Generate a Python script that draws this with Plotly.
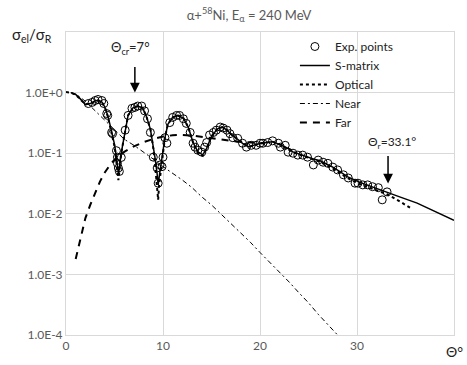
import plotly.graph_objects as go

# ---------------- data ----------------
exp_theta = [2.3, 2.7, 3.0, 3.3, 3.7, 3.9, 4.2, 4.3, 4.7, 4.8, 5.2, 5.3, 5.3, 5.4, 5.5, 5.7,
             6.1, 6.4, 6.8, 7.1, 7.4, 7.8, 8.1, 8.4, 8.7, 9.0, 9.4, 9.5, 9.7, 9.9, 10.0,
             10.2, 10.4, 10.7, 11.0, 11.4, 11.7, 12.1, 12.4, 12.8, 13.1, 13.3, 13.6, 14.0,
             14.3, 14.5, 14.8, 15.2, 15.5, 15.9, 16.2, 16.6, 16.9, 17.2, 17.7, 18.2, 18.6,
             19.1, 19.6, 20.0, 20.3, 20.8, 21.3, 21.9, 22.1, 22.6, 22.9, 23.4, 23.9, 24.4,
             24.9, 25.5, 26.0, 26.5, 27.0, 27.5, 28.0, 28.6, 29.1, 29.8, 30.1, 30.6, 31.1,
             31.6, 32.2, 32.6, 33.1]
exp_val = [0.66, 0.69, 0.74, 0.77, 0.74, 0.66, 0.45, 0.42, 0.22, 0.21, 0.11, 0.086, 0.068,
           0.057, 0.05, 0.085, 0.24, 0.42, 0.55, 0.57, 0.60, 0.60, 0.50, 0.37, 0.22, 0.086,
           0.057, 0.032, 0.064, 0.060, 0.086, 0.18, 0.146, 0.32, 0.39, 0.42, 0.42, 0.37,
           0.31, 0.22, 0.146, 0.126, 0.112, 0.104, 0.126, 0.15, 0.20, 0.22, 0.24, 0.27,
           0.26, 0.24, 0.21, 0.18, 0.176, 0.146, 0.126, 0.135, 0.135, 0.146, 0.146, 0.15,
           0.16, 0.146, 0.126, 0.135, 0.104, 0.10, 0.093, 0.093, 0.086, 0.064, 0.077,
           0.071, 0.068, 0.059, 0.053, 0.044, 0.039, 0.032, 0.032, 0.030, 0.030, 0.028,
           0.027, 0.017, 0.023]

s_theta = [0.5, 1.0, 1.5, 2.0, 2.5, 3.0, 3.3, 3.7, 4.0, 4.3, 4.6, 4.8, 5.0, 5.1, 5.2, 5.3,
           5.4, 5.5, 5.6, 5.8, 6.1, 6.4, 6.9, 7.4, 7.9, 8.3, 8.7, 9.0, 9.2, 9.4, 9.5, 9.6,
           9.8, 10.0, 10.2, 10.5, 11.0, 11.5, 12.1, 12.6, 13.1, 13.6, 14.1, 14.5, 15.0,
           15.6, 16.1, 16.6, 17.1, 17.6, 18.2, 18.8, 19.3, 20.0, 20.7, 21.3, 22.0, 22.8,
           23.4, 24.1, 24.8, 25.5, 26.2, 27.5, 28.2, 29.0, 30.3, 31.3, 32.2, 33.1, 34.4,
           36.2, 38.0, 40.0]
s_val = [1.0, 0.93, 0.78, 0.63, 0.66, 0.73, 0.75, 0.70, 0.58, 0.42, 0.27, 0.20, 0.14,
         0.11, 0.08, 0.055, 0.047, 0.055, 0.08, 0.125, 0.24, 0.42, 0.56, 0.60, 0.56, 0.40,
         0.25, 0.13, 0.08, 0.045, 0.03, 0.04, 0.065, 0.10, 0.18, 0.30, 0.39, 0.42, 0.38,
         0.27, 0.15, 0.105, 0.094, 0.12, 0.19, 0.25, 0.27, 0.24, 0.20, 0.175, 0.145,
         0.128, 0.135, 0.145, 0.15, 0.155, 0.14, 0.122, 0.105, 0.095, 0.088, 0.08, 0.075,
         0.059, 0.05, 0.041, 0.033, 0.029, 0.026, 0.023, 0.019, 0.015, 0.011, 0.0078]

o_theta = [0.0, 0.5, 1.0, 1.5, 2.0, 2.5, 3.0, 3.3, 3.7, 4.0, 4.3, 4.6, 4.8, 5.0, 5.1, 5.2,
           5.3, 5.4, 5.5, 5.6, 5.8, 6.1, 6.4, 6.9, 7.4, 7.9, 8.3, 8.7, 9.0, 9.2, 9.4, 9.5,
           9.6, 9.8, 10.0, 10.2, 10.5, 11.0, 11.5, 12.1, 12.6, 13.1, 13.6, 14.1, 14.5,
           15.0, 15.6, 16.1, 16.6, 17.1, 17.6, 18.2, 18.8, 19.3, 20.0, 20.7, 21.3, 22.0,
           22.8, 23.4, 24.1, 24.8, 25.5, 26.2, 27.5, 28.2, 29.0, 30.3, 31.3, 32.2, 33.1,
           34.4, 35.7]
o_val = [1.02, 1.0, 0.92, 0.78, 0.64, 0.66, 0.72, 0.74, 0.69, 0.57, 0.41, 0.26, 0.19,
         0.13, 0.10, 0.07, 0.045, 0.036, 0.05, 0.078, 0.125, 0.24, 0.42, 0.56, 0.60, 0.56,
         0.40, 0.25, 0.12, 0.06, 0.025, 0.017, 0.03, 0.06, 0.10, 0.18, 0.30, 0.39, 0.42,
         0.38, 0.27, 0.15, 0.10, 0.09, 0.12, 0.19, 0.25, 0.27, 0.24, 0.20, 0.175, 0.145,
         0.126, 0.134, 0.145, 0.15, 0.155, 0.14, 0.12, 0.104, 0.094, 0.086, 0.078, 0.072,
         0.056, 0.047, 0.039, 0.031, 0.027, 0.024, 0.021, 0.016, 0.012]

n_theta = [0.5, 1, 2, 3, 4, 5, 6, 7, 8, 9, 10, 11, 12, 13, 14, 15, 16, 17, 18, 19, 20,
           21, 22, 23, 24, 25, 26, 27, 28, 28.5]
n_val = [1.0, 0.95, 0.72, 0.5, 0.35, 0.24, 0.17, 0.135, 0.105, 0.08, 0.06, 0.047, 0.036,
         0.027, 0.019, 0.014, 0.0098, 0.0069, 0.0049, 0.0034, 0.0023, 0.0016, 0.0011,
         0.00075, 0.0005, 0.00034, 0.00022, 0.00015, 0.0001, 0.00008]

f_theta = [1.0, 1.5, 2.0, 2.5, 3.0, 3.5, 4.0, 4.5, 5, 6, 7, 8, 9, 10, 11, 12, 13, 14, 15,
           16, 17, 18, 19, 20, 20.5]
f_val = [0.0018, 0.004, 0.0085, 0.014, 0.022, 0.034, 0.048, 0.063, 0.078, 0.105, 0.13,
         0.152, 0.172, 0.188, 0.198, 0.2, 0.195, 0.185, 0.175, 0.166, 0.16, 0.155, 0.15,
         0.147, 0.145]

x_ticks = [0, 10, 20, 30, 40]
x_labels = ["0", "10", "20", "30", ""]
y_ticks = [1e-4, 1e-3, 1e-2, 1e-1, 1e0, 1e1]
y_labels = ["1.0E-4", "1.0E-3", "1.0E-2", "1.0E-1", "1.0E+0", ""]

FONT = "Lato, 'Open Sans', sans-serif"
GRAY = "#595959"
GRID = "#d9d9d9"

fig = go.Figure()
fig.add_trace(go.Scatter(x=exp_theta, y=exp_val, mode="markers", name="Exp. points",
                         marker=dict(symbol="circle-open", size=8, color="black",
                                     line=dict(width=1, color="black"))))
fig.add_trace(go.Scatter(x=s_theta, y=s_val, mode="lines", name="S-matrix",
                         line=dict(color="black", width=1.5)))
fig.add_trace(go.Scatter(x=o_theta, y=o_val, mode="lines", name="Optical",
                         line=dict(color="black", width=2, dash="dot")))
fig.add_trace(go.Scatter(x=n_theta, y=n_val, mode="lines", name="Near",
                         line=dict(color="black", width=1, dash="5px,3px,2px,3px")))
fig.add_trace(go.Scatter(x=f_theta, y=f_val, mode="lines", name="Far",
                         line=dict(color="black", width=2, dash="7px,6px")))

fig.update_layout(
    width=467, height=365,
    margin=dict(l=66, r=13, t=32, b=30),
    paper_bgcolor="white", plot_bgcolor="white",
    font=dict(family=FONT, size=12, color=GRAY),
    showlegend=True,
    legend=dict(x=0.59, y=1.0, xanchor="left", yanchor="top",
                bgcolor="rgba(255,255,255,0)", font=dict(size=12, color="#222"),
                tracegroupgap=0),
    title=dict(text="α+<sup>58</sup>Ni, E<sub>α</sub> = 240 MeV", x=249 / 467, xanchor="center",
               y=1 - 15 / 365, yanchor="middle", font=dict(size=13, color=GRAY, family=FONT)),
)
fig.update_xaxes(range=[0, 40], tickvals=x_ticks, ticktext=x_labels, showgrid=True,
                 gridcolor=GRID, gridwidth=1, showline=True, linecolor=GRID, mirror=True,
                 ticks="", zeroline=False, tickfont=dict(size=12, color=GRAY))
fig.update_yaxes(type="log", range=[-4, 1], tickvals=y_ticks, ticktext=y_labels,
                 showgrid=True, gridcolor=GRID, gridwidth=1, showline=True, linecolor=GRID,
                 mirror=True, ticks="", zeroline=False, tickfont=dict(size=12, color=GRAY))

# axis labels
fig.add_annotation(text="σ<sub>el</sub>/σ<sub>R</sub>", xref="paper", yref="paper",
                   x=-0.145, y=0.99, xanchor="left", yanchor="middle", showarrow=False,
                   font=dict(size=15, color="#222", family=FONT))
fig.add_annotation(text="Θ°", xref="x", yref="paper", x=40, y=-0.055, xanchor="center",
                   yanchor="middle", showarrow=False, font=dict(size=14, color="#222", family=FONT))

# arrows
fig.add_annotation(x=7.1, y=0, xref="x", yref="y", text="", showarrow=True, ax=0, ay=-27,
                   axref="pixel", ayref="pixel", arrowhead=2, arrowsize=1.3, arrowwidth=1.5,
                   arrowcolor="black")
fig.add_annotation(x=6.6, y=0.74, xref="x", yref="y", text="Θ<sub>cr</sub>=7°", showarrow=False,
                   xanchor="center", yanchor="middle", font=dict(size=13, color="#222", family=FONT))
fig.add_annotation(x=33.2, y=-1.5, xref="x", yref="y", text="", showarrow=True, ax=0, ay=-29,
                   axref="pixel", ayref="pixel", arrowhead=2, arrowsize=1.3, arrowwidth=1.5,
                   arrowcolor="black")
fig.add_annotation(x=33.6, y=-0.83, xref="x", yref="y", text="Θ<sub>r</sub>=33.1°", showarrow=False,
                   xanchor="center", yanchor="middle", font=dict(size=12, color="#222", family=FONT))

fig.write_html("out.html")
